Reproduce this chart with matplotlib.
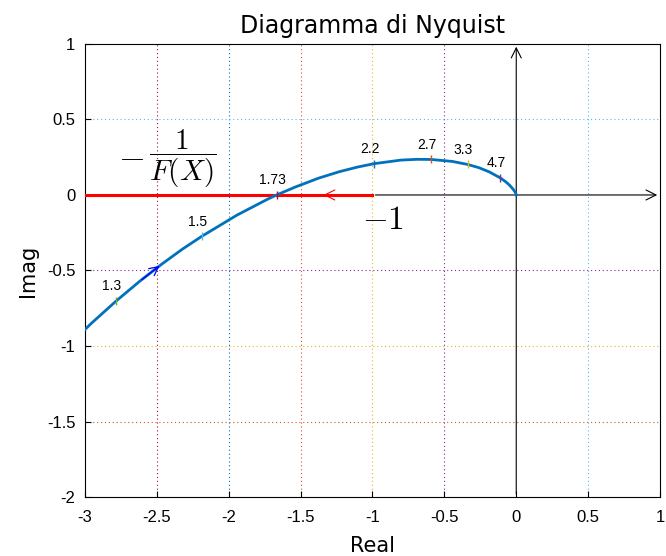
import matplotlib.pyplot as plt

plt.rcParams['mathtext.fontset'] = 'cm'

# Nyquist curve points (real, imag)
re_pts = [-3.14, -2.956, -2.782, -2.619, -2.466, -2.323, -2.188, -1.944, -1.730, -1.667,
          -1.541, -1.376, -1.231, -1.103, -0.990, -0.802, -0.688, -0.592, -0.444, -0.338,
          -0.261, -0.188, -0.111, -0.074, -0.048, -0.028, -0.017, -0.007, -0.004, 0.0]
im_pts = [-1.021, -0.850, -0.701, -0.571, -0.458, -0.359, -0.274, -0.134, -0.028, 0.0,
          0.051, 0.111, 0.154, 0.185, 0.207, 0.231, 0.236, 0.235, 0.222, 0.202,
          0.181, 0.153, 0.113, 0.088, 0.066, 0.045, 0.032, 0.018, 0.011, 0.0]

# frequency labels on the curve
freq_labels = ['1.3', '1.5', '1.73', '2.2', '2.7', '3.3', '4.7']
freq_re = [-2.782, -2.188, -1.667, -0.990, -0.592, -0.338, -0.111]
freq_im = [-0.701, -0.274, 0.0, 0.207, 0.235, 0.202, 0.113]
freq_colors = ['#77AC30', '#4DBEEE', '#A2142F', '#0072BD', '#D95319', '#EDB120', '#7E2F8E']

x_ticks = [-3, -2.5, -2, -1.5, -1, -0.5, 0, 0.5, 1]
y_ticks = [-2, -1.5, -1, -0.5, 0, 0.5, 1]
x_grid_colors = {-2.5: '#A2142F', -2: '#0072BD', -1.5: '#D95319', -1: '#EDB120',
                 -0.5: '#7E2F8E', 0.5: '#4DBEEE'}
y_grid_colors = {0.5: '#4DBEEE', -0.5: '#7E2F8E', -1: '#EDB120', -1.5: '#D95319'}

fig = plt.figure(figsize=(6.66, 5.56), dpi=100)
ax = fig.add_axes([0.1276, 0.106, 0.8634, 0.815])

for xv, c in x_grid_colors.items():
    ax.axvline(xv, color=c, ls=(0, (1, 2.5)), lw=0.8, zorder=0)
for yv, c in y_grid_colors.items():
    ax.axhline(yv, color=c, ls=(0, (1, 2.5)), lw=0.8, zorder=0)

# axes arrows
ax.annotate('', xy=(1, 0), xytext=(-1, 0),
            arrowprops=dict(arrowstyle='->', color='k', lw=0.8, mutation_scale=18), zorder=2)
ax.annotate('', xy=(0, 1), xytext=(0, -2),
            arrowprops=dict(arrowstyle='->', color='k', lw=0.8, mutation_scale=18), zorder=2)

# -1/F(X) line
ax.plot([-3, -1], [0, 0], color='#FF0000', lw=2.2, zorder=3)
ax.annotate('', xy=(-1.36, 0), xytext=(-1.2, 0),
            arrowprops=dict(arrowstyle='->', color='#FF0000', lw=0.8, mutation_scale=18), zorder=4)

ax.plot(re_pts, im_pts, color='#0072BD', lw=2, zorder=5)
ax.annotate('', xy=(-2.466, -0.458), xytext=(-2.619, -0.571),
            arrowprops=dict(arrowstyle='->', color='#0000FF', lw=0.9, mutation_scale=16), zorder=6)

for lab, xr, yi, c in zip(freq_labels, freq_re, freq_im, freq_colors):
    ax.plot(xr, yi, marker='|', color=c, ms=6, mew=1, zorder=6)
    ax.text(xr - 0.03, yi + 0.05, lab, fontsize=10, ha='center', va='bottom',
            family='Liberation Sans')

ax.text(-2.68, 0.255, r'$-$', fontsize=25, ha='center', va='center')
ax.text(-2.32, 0.24, r'$\dfrac{1}{F(X)}$', fontsize=21, ha='center', va='center')
ax.text(-0.93, -0.16, r'$-1$', fontsize=24, ha='center', va='center')

ax.set_xlim(-3, 1)
ax.set_ylim(-2, 1)
ax.set_xticks(x_ticks)
ax.set_yticks(y_ticks)
ax.set_xticklabels([('%g' % v) for v in x_ticks], family='Liberation Sans', fontsize=12)
ax.set_yticklabels([('%g' % v) for v in y_ticks], family='Liberation Sans', fontsize=12)
ax.tick_params(direction='in', length=4, top=False, right=False)
ax.tick_params(axis='x', pad=9)
ax.tick_params(axis='y', pad=7)
ax.set_xlabel('Real', fontsize=15, labelpad=8)
ax.set_ylabel('Imag', fontsize=15, labelpad=6)
ax.set_title('Diagramma di Nyquist', fontsize=17, pad=8)

fig.savefig('out.png', dpi=100)
